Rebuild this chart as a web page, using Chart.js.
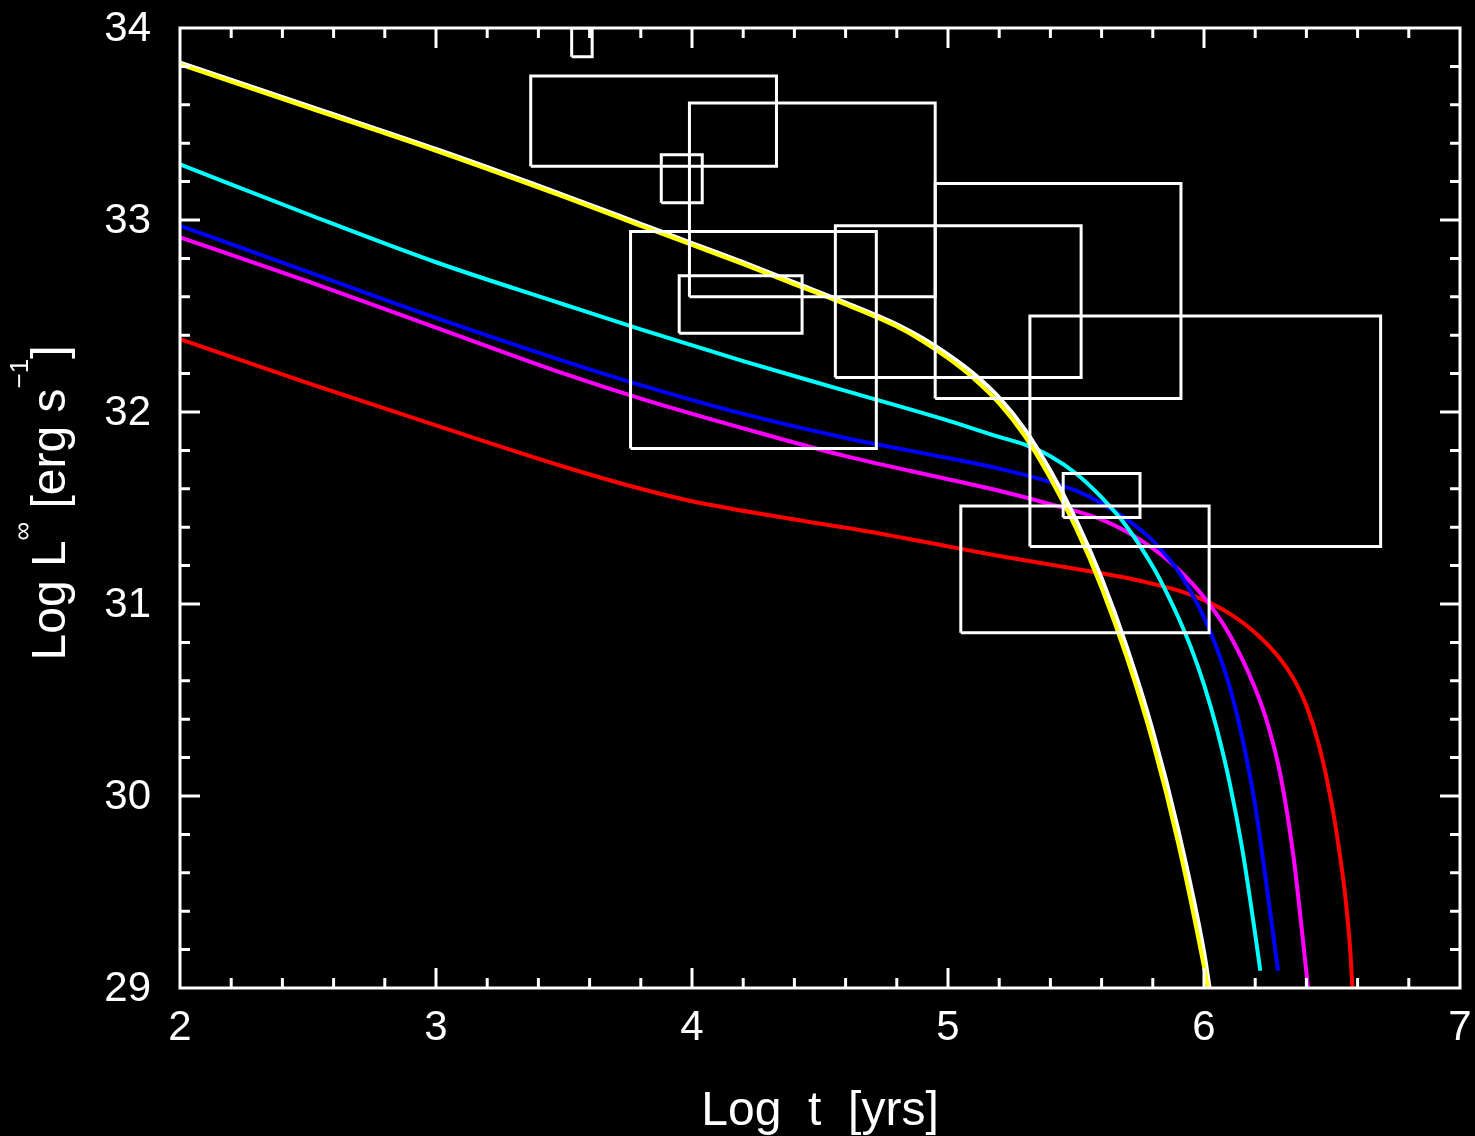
<!DOCTYPE html>
<html>
<head>
<meta charset="utf-8">
<script src="https://cdn.jsdelivr.net/npm/chart.js@4.4.1/dist/chart.umd.min.js"></script>
<style>
  html, body { margin: 0; padding: 0; background: #000; }
  #wrap { width: 1475px; height: 1136px; position: relative; }
</style>
</head>
<body>
<div id="wrap"><canvas id="c" width="1475" height="1136"></canvas></div>
<script>
// Axis tick labels
const xTickLabels = [2, 3, 4, 5, 6, 7];
const yTickLabels = [29, 30, 31, 32, 33, 34];

// Cooling curves: log age [yr] vs log luminosity at infinity [erg/s]
const yellowT  = [2.0, 2.5, 3.0, 3.5, 3.8, 4.0, 4.2, 4.4, 4.6, 4.8, 4.9, 5.0, 5.1, 5.2, 5.3, 5.4, 5.5, 5.6, 5.7, 5.8, 5.9, 6.0, 6.015];
const yellowL  = [33.81, 33.585, 33.36, 33.12, 32.97, 32.87, 32.77, 32.665, 32.56, 32.445, 32.37, 32.28, 32.175, 32.045, 31.875, 31.655, 31.395, 31.085, 30.715, 30.28, 29.75, 29.11, 29.00];

const whiteT   = [2.0, 2.5, 3.0, 3.5, 3.8, 4.0, 4.2, 4.4, 4.6, 4.8, 4.9, 5.0, 5.1, 5.2, 5.3, 5.4, 5.5, 5.6, 5.7, 5.8, 5.9, 6.0, 6.022];
const whiteL   = [33.82, 33.595, 33.37, 33.13, 32.98, 32.88, 32.78, 32.675, 32.57, 32.457, 32.385, 32.30, 32.20, 32.075, 31.91, 31.695, 31.44, 31.135, 30.77, 30.34, 29.82, 29.19, 29.00];

const cyanT    = [2.0, 2.5, 3.0, 3.5, 3.8, 4.2, 4.6, 5.0, 5.2, 5.3, 5.4, 5.5, 5.6, 5.7, 5.8, 5.85, 5.9, 5.95, 6.0, 6.05, 6.1, 6.15, 6.2, 6.22];
const cyanL    = [33.29, 33.03, 32.78, 32.56, 32.43, 32.265, 32.11, 31.955, 31.87, 31.83, 31.77, 31.68, 31.555, 31.40, 31.195, 31.07, 30.93, 30.77, 30.58, 30.35, 30.07, 29.72, 29.28, 29.09];

const blueT    = [2.0, 2.5, 3.0, 3.5, 3.8, 4.2, 4.6, 5.0, 5.2, 5.4, 5.5, 5.6, 5.7, 5.8, 5.85, 5.9, 5.95, 6.0, 6.05, 6.1, 6.15, 6.2, 6.25, 6.289];
const blueL    = [32.97, 32.73, 32.49, 32.265, 32.14, 31.99, 31.865, 31.76, 31.705, 31.635, 31.59, 31.525, 31.44, 31.33, 31.255, 31.17, 31.06, 30.93, 30.77, 30.57, 30.30, 29.95, 29.48, 29.09];

const magentaT = [2.0, 2.5, 3.0, 3.5, 3.8, 4.2, 4.6, 5.0, 5.2, 5.4, 5.6, 5.7, 5.8, 5.9, 6.0, 6.1, 6.2, 6.25, 6.3, 6.35, 6.38, 6.4, 6.406];
const magentaL = [32.91, 32.68, 32.44, 32.20, 32.07, 31.915, 31.77, 31.65, 31.59, 31.52, 31.44, 31.375, 31.29, 31.18, 31.035, 30.84, 30.56, 30.37, 30.10, 29.68, 29.33, 29.08, 29.00];

const redT     = [2.0, 2.5, 3.0, 3.5, 3.8, 4.0, 4.4, 4.7, 5.0, 5.2, 5.4, 5.6, 5.7, 5.8, 5.9, 6.0, 6.1, 6.2, 6.3, 6.35, 6.4, 6.45, 6.5, 6.53, 6.55, 6.57, 6.58];
const redL     = [32.38, 32.15, 31.93, 31.715, 31.60, 31.535, 31.44, 31.375, 31.30, 31.25, 31.205, 31.16, 31.135, 31.105, 31.07, 31.02, 30.95, 30.85, 30.71, 30.61, 30.47, 30.26, 29.95, 29.70, 29.50, 29.22, 29.00];

// Observed sources: age and luminosity ranges (error boxes)
const boxTmin = [3.53, 3.37, 3.99, 3.88, 3.76, 3.95, 4.56, 4.95, 5.32, 5.45, 5.05];
const boxTmax = [3.61, 4.33, 4.95, 4.04, 4.72, 4.43, 5.52, 5.91, 6.69, 5.75, 6.02];
const boxLmin = [33.85, 33.28, 32.60, 33.09, 31.81, 32.41, 32.18, 32.07, 31.30, 31.45, 30.85];
const boxLmax = [34.00, 33.75, 33.61, 33.34, 32.94, 32.71, 32.97, 33.19, 32.50, 31.68, 31.51];

const FONT = '"Liberation Sans", Arial, sans-serif';

function pts(ts, ls) { return ts.map((t, i) => ({ x: t, y: ls[i] })); }

function curve(ts, ls, color) {
  return {
    data: pts(ts, ls),
    borderColor: color,
    borderWidth: 4,
    pointRadius: 0,
    fill: false,
    cubicInterpolationMode: 'monotone'
  };
}

const boxSets = boxTmin.map((t0, i) => ({
  data: [
    { x: t0, y: boxLmin[i] },
    { x: boxTmax[i], y: boxLmin[i] },
    { x: boxTmax[i], y: boxLmax[i] },
    { x: t0, y: boxLmax[i] },
    { x: t0, y: boxLmin[i] }
  ],
  borderColor: '#ffffff',
  borderWidth: 3,
  pointRadius: 0,
  fill: false,
  tension: 0,
  borderJoinStyle: 'miter'
}));

// First dataset in the list is painted on top
const datasets = [
  ...boxSets,
  curve(yellowT, yellowL, '#ffff00'),
  curve(whiteT, whiteL, '#ffffff'),
  curve(cyanT, cyanL, '#00ffff'),
  curve(blueT, blueL, '#0000ff'),
  curve(magentaT, magentaL, '#ff00ff'),
  curve(redT, redL, '#ff0000')
];

// Black page, framed plot box with inward major/minor ticks on all sides,
// tick labels and axis titles
const framePlugin = {
  id: 'frame',
  beforeDraw(chart) {
    const ctx = chart.ctx;
    ctx.save();
    ctx.fillStyle = '#000';
    ctx.fillRect(0, 0, chart.width, chart.height);
    ctx.restore();
  },
  afterDraw(chart) {
    const { ctx, chartArea: a, scales: { x, y } } = chart;
    ctx.save();
    ctx.strokeStyle = '#fff';
    ctx.lineWidth = 3;
    ctx.lineCap = 'butt';
    ctx.strokeRect(a.left, a.top, a.right - a.left, a.bottom - a.top);

    const MAJ = 20, MIN = 10;
    ctx.beginPath();
    for (let i = 0; i < xTickLabels.length; i++) {
      const v0 = xTickLabels[i];
      const px = x.getPixelForValue(v0);
      if (i > 0 && i < xTickLabels.length - 1) {
        ctx.moveTo(px, a.bottom); ctx.lineTo(px, a.bottom - MAJ);
        ctx.moveTo(px, a.top); ctx.lineTo(px, a.top + MAJ);
      }
      if (i < xTickLabels.length - 1) {
        const v1 = xTickLabels[i + 1];
        for (let k = 1; k < 5; k++) {
          const p = x.getPixelForValue(v0 + (v1 - v0) * k / 5);
          ctx.moveTo(p, a.bottom); ctx.lineTo(p, a.bottom - MIN);
          ctx.moveTo(p, a.top); ctx.lineTo(p, a.top + MIN);
        }
      }
    }
    for (let i = 0; i < yTickLabels.length; i++) {
      const v0 = yTickLabels[i];
      const py = y.getPixelForValue(v0);
      if (i > 0 && i < yTickLabels.length - 1) {
        ctx.moveTo(a.left, py); ctx.lineTo(a.left + MAJ, py);
        ctx.moveTo(a.right, py); ctx.lineTo(a.right - MAJ, py);
      }
      if (i < yTickLabels.length - 1) {
        const v1 = yTickLabels[i + 1];
        for (let k = 1; k < 5; k++) {
          const p = y.getPixelForValue(v0 + (v1 - v0) * k / 5);
          ctx.moveTo(a.left, p); ctx.lineTo(a.left + MIN, p);
          ctx.moveTo(a.right, p); ctx.lineTo(a.right - MIN, p);
        }
      }
    }
    ctx.stroke();

    // tick labels
    ctx.fillStyle = '#fff';
    ctx.font = '42px ' + FONT;
    ctx.textAlign = 'center';
    ctx.textBaseline = 'alphabetic';
    for (const v of xTickLabels) {
      ctx.fillText(String(v), x.getPixelForValue(v), a.bottom + 52);
    }
    ctx.textAlign = 'right';
    ctx.textBaseline = 'middle';
    for (const v of yTickLabels) {
      ctx.fillText(String(v), a.left - 29, y.getPixelForValue(v) + 1);
    }

    // x-axis title
    ctx.textAlign = 'center';
    ctx.textBaseline = 'alphabetic';
    ctx.font = '48px ' + FONT;
    ctx.fillText('Log  t  [yrs]', (a.left + a.right) / 2, 1125);

    // y-axis title with superscripts, rotated
    const big = '48px ' + FONT, small = '26px ' + FONT;
    const parts = [
      ['Log L', big, 0],
      ['\u221E', small, 34],
      [' [erg s', big, 0],
      ['\u22121', small, 37],
      [']', big, 0]
    ];
    let total = 0;
    for (const p of parts) { ctx.font = p[1]; total += ctx.measureText(p[0]).width; }
    ctx.translate(65, 503);
    ctx.rotate(-Math.PI / 2);
    ctx.textAlign = 'left';
    let cx = -total / 2;
    for (const p of parts) {
      ctx.font = p[1];
      ctx.fillText(p[0], cx, -p[2]);
      cx += ctx.measureText(p[0]).width;
    }
    ctx.restore();
  }
};

new Chart(document.getElementById('c'), {
  type: 'line',
  data: { datasets },
  options: {
    responsive: false,
    animation: false,
    devicePixelRatio: 1,
    layout: { padding: { top: 28, right: 15, left: 0, bottom: 0 } },
    plugins: { legend: { display: false }, tooltip: { enabled: false }, title: { display: false } },
    scales: {
      x: {
        type: 'linear', min: 2, max: 7,
        afterFit(s) { s.height = 148; },
        ticks: { display: false },
        grid: { display: false, drawTicks: false },
        border: { display: false }
      },
      y: {
        type: 'linear', min: 29, max: 34,
        afterFit(s) { s.width = 180; },
        ticks: { display: false },
        grid: { display: false, drawTicks: false },
        border: { display: false }
      }
    }
  },
  plugins: [framePlugin]
});
</script>
</body>
</html>
